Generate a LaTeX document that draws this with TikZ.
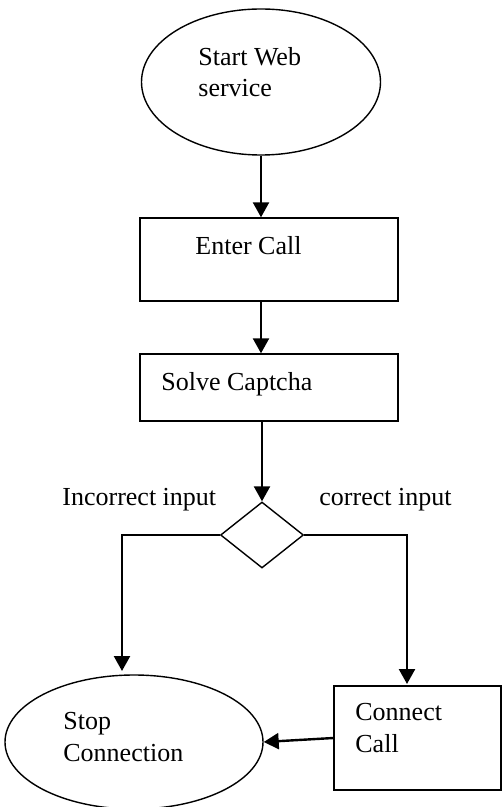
\documentclass[tikz,border=0pt]{standalone}
\usepackage{fontspec}
\setmainfont{Liberation Serif}
\usetikzlibrary{shapes.geometric,arrows.meta}

\begin{document}
\begin{tikzpicture}[x=0.5pt,y=-0.5pt,
  oval/.style={draw,ellipse,line width=0.7pt,inner sep=0pt},
  box/.style={draw,rectangle,line width=0.7pt,inner sep=0pt},
  choice/.style={draw,diamond,line width=0.7pt,inner sep=0pt},
  flow/.style={-{Triangle[length=7.5pt,width=8pt]},line width=1.2pt},
  txt/.style={align=left,anchor=base west,inner sep=0pt,font=\fontsize{13pt}{15.6pt}\selectfont}]

\useasboundingbox (0,0) rectangle (502,807);

% shapes
\node[oval,minimum width=119.5pt,minimum height=73pt] (start) at (261,82) {};
\node[box,minimum width=129pt,minimum height=41.5pt] (enter) at (269,259.5) {};
\node[box,minimum width=129pt,minimum height=33.5pt] (solve) at (269,387.5) {};
\node[choice,minimum width=41.5pt,minimum height=33pt] (dec) at (262,535) {};
\node[oval,minimum width=129pt,minimum height=67pt] (stop) at (134,742) {};
\node[box,minimum width=83.5pt,minimum height=52pt] (conn) at (417.5,738) {};

% labels (base = last line)
\node[txt] (startlbl) at (198,97) {Start Web\\service};
\node[txt] (enterlbl) at (195,255) {Enter Call};
\node[txt] (solvelbl) at (161,390) {Solve Captcha};
\node[txt] (nolbl) at (62,505) {Incorrect input};
\node[txt] (yeslbl) at (319,505) {correct input};
\node[txt] (stoplbl) at (63,761) {Stop\\Connection};
\node[txt] (connlbl) at (355,752) {Connect\\Call};

% arrows
\coordinate (stopin) at (122,671);
\coordinate (connin) at (407,684);
\draw[flow] (start.south) -- (start.south |- enter.north);
\draw[flow] (start.south |- enter.south) -- (start.south |- solve.north);
\draw[flow] (dec.north |- solve.south) -- (dec.north);
\draw[flow] (dec.west) -| (stopin);
\draw[flow] (dec.east) -| (connin);
\draw[flow] (conn.west) -- (stop.east);

\end{tikzpicture}
\end{document}
